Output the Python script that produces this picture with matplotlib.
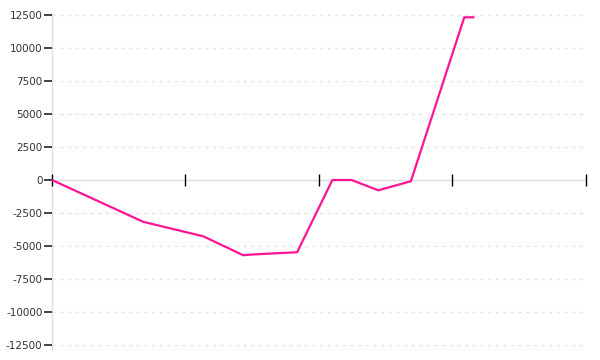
import matplotlib
matplotlib.use("Agg")
import matplotlib.pyplot as plt

# data
x_vals = [0, 0.7, 17.2, 28.4, 35.9, 37.7, 46.0, 52.6, 56.2, 61.2, 67.3, 77.3, 79.0]
y_vals = [0, -110, -3170, -4260, -5700, -5640, -5470, 0, 0, -780, -90, 12330, 12330]
y_ticks = [-12500, -10000, -7500, -5000, -2500, 0, 2500, 5000, 7500, 10000, 12500]
x_ticks = [0, 25, 50, 75, 100]

fig = plt.figure(figsize=(6, 3.6), dpi=100)
ax = fig.add_axes([51.5 / 600, 1 - 350 / 360, 534 / 600, (350 - 13.5) / 360])

ax.plot(x_vals, y_vals, color="#ff1493", lw=1.6, solid_joinstyle="miter", zorder=3)

ax.set_xlim(0, 100)
ax.set_ylim(-12880, 12620)

ax.set_yticks(y_ticks)
ax.set_yticklabels([str(v) for v in y_ticks])
ax.set_xticks(x_ticks)
ax.set_xticklabels([])

for v in y_ticks:
    if v != 0:
        ax.axhline(v, color="#e6e6e6", lw=1, ls=(0, (2.5, 3)), zorder=1)

for s in ["top", "right"]:
    ax.spines[s].set_visible(False)
ax.spines["left"].set_color("#dddddd")
ax.spines["left"].set_linewidth(1)
ax.spines["left"].set_zorder(0.5)
ax.spines["bottom"].set_position(("data", 0))
ax.spines["bottom"].set_color("#dddddd")
ax.spines["bottom"].set_linewidth(1)
ax.spines["bottom"].set_zorder(0.5)

ax.tick_params(axis="y", length=6, width=1.1, color="#111111", labelsize=7.5,
               labelcolor="#333333", pad=0.5)
ax.tick_params(axis="x", direction="inout", length=9, width=1, color="black")

fig.savefig("out.png", dpi=100)
